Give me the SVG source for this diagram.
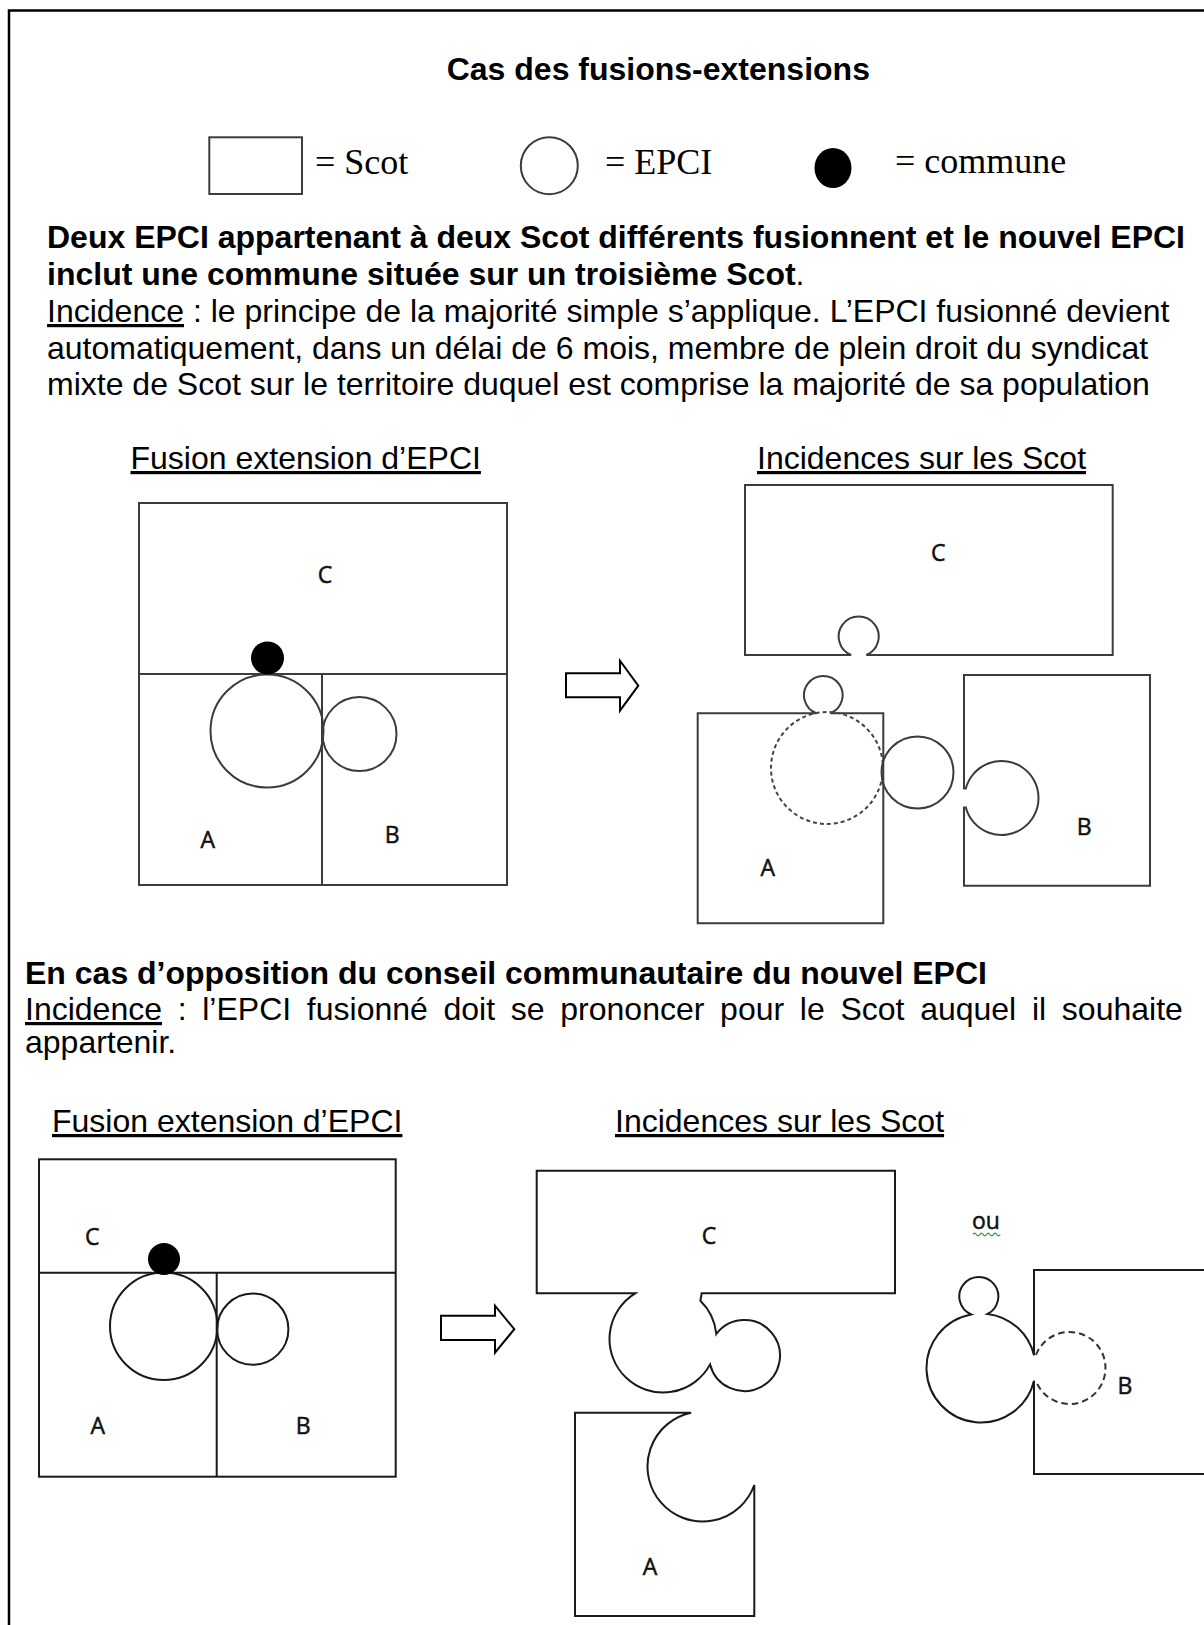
<svg xmlns="http://www.w3.org/2000/svg" width="1204" height="1625" viewBox="0 0 1204 1625">
<style>
.t{font-family:"Liberation Sans",Arial,sans-serif;font-size:32px;fill:#000}
.b{font-weight:bold}
.u{text-decoration:underline}
.tm{font-family:"Liberation Serif","Times New Roman",serif;font-size:36px;fill:#000}
.lb{font-family:"Open Sans","Liberation Sans",sans-serif;font-size:23px;fill:#111;stroke:#111;stroke-width:0.5;text-anchor:middle}
.s1{fill:none;stroke:#3c3c3c;stroke-width:2}
.s2{fill:none;stroke:#1a1a1a;stroke-width:2}
.d1{fill:none;stroke:#444;stroke-width:2;stroke-dasharray:4 3}
.d2{fill:none;stroke:#333;stroke-width:2;stroke-dasharray:6.5 4}
.dot{fill:#000}
.arr{fill:#fff;stroke:#000;stroke-width:2;stroke-linejoin:miter}
</style>
<rect width="1204" height="1625" fill="#fff"/>
<path id="border" d="M9,1625 V10.5 H1204" fill="none" stroke="#000" stroke-width="2.5"/>

<g id="title"><text class="t b" x="446.7" y="80">Cas des fusions-extensions</text></g>

<g id="legend">
  <g id="legend-scot"><rect x="209.3" y="137.3" width="92.7" height="56.7" class="s1" stroke-width="1.6"/><text class="tm" x="315" y="174">= Scot</text></g>
  <g id="legend-epci"><circle cx="549.3" cy="165.7" r="28.5" class="s1" stroke-width="1.6"/><text class="tm" x="605" y="174">= EPCI</text></g>
  <g id="legend-commune"><ellipse cx="833" cy="168" rx="18.5" ry="20" class="dot"/><text class="tm" x="895" y="173">= commune</text></g>
</g>

<g id="para1" class="t">
  <text class="b" x="47" y="248">Deux EPCI appartenant à deux Scot différents fusionnent et le nouvel EPCI</text>
  <text x="47" y="285"><tspan class="b">inclut une commune située sur un troisième Scot</tspan>.</text>
  <text x="47" y="322"><tspan class="u">Incidence</tspan> : le principe de la majorité simple s’applique. L’EPCI fusionné devient</text>
  <text x="47" y="358.5">automatiquement, dans un délai de 6 mois, membre de plein droit du syndicat</text>
  <text x="47" y="395">mixte de Scot sur le territoire duquel est comprise la majorité de sa population</text>
</g>

<g id="heads1" class="t">
  <text class="u" x="130.5" y="469">Fusion extension d’EPCI</text>
  <text class="u" x="757" y="469">Incidences sur les Scot</text>
</g>

<g id="case1-before">
  <rect x="139" y="503" width="368" height="382" class="s1"/>
  <line x1="139" y1="674" x2="507" y2="674" class="s1"/>
  <line x1="322" y1="674" x2="322" y2="885" class="s1"/>
  <circle cx="267" cy="731" r="56.5" class="s1"/>
  <circle cx="359.5" cy="734" r="37" class="s1"/>
  <circle cx="267.5" cy="658" r="16.5" class="dot"/>
  <text class="lb" x="325" y="583">C</text>
  <text class="lb" x="207.7" y="848">A</text>
  <text class="lb" x="392.3" y="843">B</text>
</g>

<g id="case1-after">
  <g id="c1-C"><path d="M745,485 H1112.7 V655 H866.3 A20,20 0 1 0 851.1,655 H745 Z" class="s1"/><text class="lb" x="938.3" y="560.7">C</text></g>
  <g id="c1-A"><path d="M697.7,713.3 H816.3 A19.3,19.3 0 1 1 830.3,713.3 H883.3 V923.3 H697.7 Z" class="s1"/>
    <circle cx="827" cy="768" r="56" class="d1"/><text class="lb" x="767.7" y="876.3">A</text></g>
  <g id="c1-epci"><circle cx="917.5" cy="772.5" r="36" class="s1"/></g>
  <g id="c1-B"><path d="M964,675 H1150 V885.7 H964 V807.6 H965.8 A37,37 0 1 0 965.8,788.4 H964 Z" class="s1"/><text class="lb" x="1084.3" y="835.3">B</text></g>
</g>

<g id="para2" class="t">
  <text class="b" x="25" y="984">En cas d’opposition du conseil communautaire du nouvel EPCI</text>
  <text x="25" y="1020" word-spacing="6.8"><tspan class="u">Incidence</tspan> : l’EPCI fusionné doit se prononcer pour le Scot auquel il souhaite</text>
  <text x="25" y="1053">appartenir.</text>
</g>

<g id="heads2" class="t">
  <text class="u" x="52" y="1132">Fusion extension d’EPCI</text>
  <text class="u" x="615" y="1132">Incidences sur les Scot</text>
</g>

<g id="case2-before">
  <rect x="39" y="1159.3" width="356.7" height="317.4" class="s2"/>
  <line x1="39" y1="1272.7" x2="395.7" y2="1272.7" class="s2"/>
  <line x1="216.7" y1="1272.7" x2="216.7" y2="1476.7" class="s2"/>
  <circle cx="163.7" cy="1326.3" r="53.7" class="s2"/>
  <circle cx="252.8" cy="1329.2" r="35.6" class="s2"/>
  <circle cx="164" cy="1259" r="16" class="dot"/>
  <text class="lb" x="92.3" y="1244.7">C</text>
  <text class="lb" x="97.7" y="1433.7">A</text>
  <text class="lb" x="303.3" y="1433.7">B</text>
</g>

<g id="case2-after">
  <g id="c2-C"><path d="M635.2,1293.3 A53.5,53.5 0 1 0 710.1,1364.4 A35.5,35.5 0 1 0 716.3,1334 A53.5,53.5 0 0 0 700.4,1300.7 L701.7,1293.3 H895 V1170.7 H536.7 V1293.3 Z" class="s2"/><text class="lb" x="709" y="1244">C</text></g>
  <g id="c2-A"><path d="M575,1412.7 H691.1 A55,55 0 1 0 754.3,1485 V1616 H575 Z" class="s2"/><text class="lb" x="650" y="1575.3">A</text></g>
  <g id="c2-ou"><text class="lb" x="986" y="1229" font-size="24">ou</text><path d="M973,1234.5 q1.7,-2.5 3.4,0 t3.4,0 t3.4,0 t3.4,0 t3.4,0 t3.4,0 t3.4,0 t3.4,0" fill="none" stroke="#3aa03a" stroke-width="1.3"/></g>
  <g id="c2-B"><path d="M1210,1270 H1034 V1355.3 A54.5,54.5 0 0 0 987.6,1313.9 A19.5,19.5 0 1 0 971.1,1314.4 A54.5,54.5 0 1 0 1034,1380.7 V1474 H1210" class="s2"/>
    <path d="M1036,1354.8 A36,36 0 1 1 1036,1381.2" class="d2"/><text class="lb" x="1125" y="1393.7">B</text></g>
</g>

<g id="connectors">
  <path d="M566,673.3 H620 V660.7 L638.3,685.7 L620,710.7 V697.3 H566 Z" class="arr"/>
  <path d="M441,1315.7 H495 V1305.7 L514.3,1329.2 L495,1352.7 V1340 H441 Z" class="arr"/>
</g>
</svg>
